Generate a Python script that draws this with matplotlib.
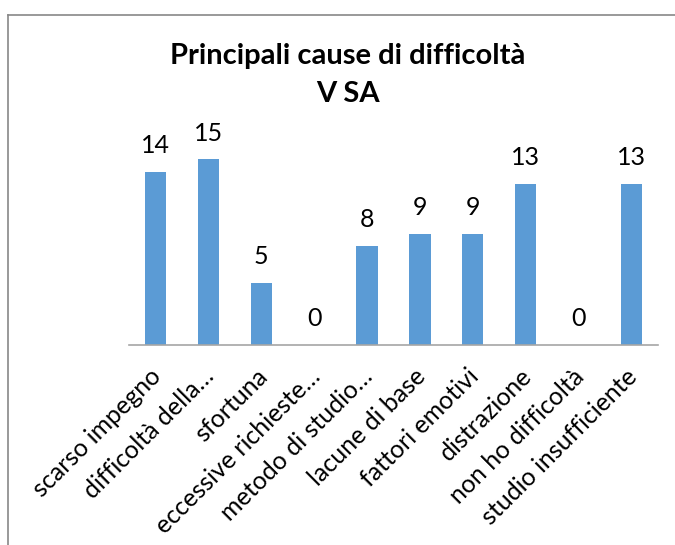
import matplotlib
matplotlib.use("Agg")
import matplotlib.pyplot as plt
from matplotlib.lines import Line2D
from matplotlib.transforms import ScaledTranslation

# dati del grafico
cause = ["scarso impegno", "difficoltà della…", "sfortuna", "eccessive richieste…",
         "metodo di studio…", "lacune di base", "fattori emotivi", "distrazione",
         "non ho difficoltà", "studio insufficiente"]
valori = [14, 15, 5, 0, 8, 9, 9, 13, 0, 13]
titolo = "Principali cause di difficoltà\nV SA"

plt.rcParams['font.family'] = ['Lato', 'DejaVu Sans']

fig = plt.figure(figsize=(6.75, 5.45), dpi=100)
ax = fig.add_axes([129/675, 1-345/545, (658-129)/675, (345-147)/545])

x = range(len(cause))
barre = ax.bar(x, valori, width=0.4, color="#5B9BD5")
for xi, v in zip(x, valori):
    ax.text(xi, v + 1.2, str(v), ha="center", va="bottom", fontsize=18, color="black")

ax.set_xlim(-0.5, len(cause) - 0.5)
ax.set_ylim(0, 16)
ax.set_yticks([])
ax.set_xticks(list(x))
ax.set_xticklabels(cause, rotation=45, ha="right", rotation_mode="anchor", fontsize=18)
ax.tick_params(axis="x", length=0, pad=14)
sposta = ScaledTranslation(-6/100, 0, fig.dpi_scale_trans)
for lab in ax.get_xticklabels():
    lab.set_transform(lab.get_transform() + sposta)
for s in ["top", "right", "left"]:
    ax.spines[s].set_visible(False)
ax.spines["bottom"].set_color("#A6A6A6")
ax.spines["bottom"].set_linewidth(1.2)

fig.text(348/675, 1-75/545, titolo, ha="center", va="center", fontsize=21,
         fontweight="bold", linespacing=1.55)

# bordo del grafico (in alto e a sinistra)
fig.add_artist(Line2D([7.5/675, 1], [1-15/545, 1-15/545], color="#888888", lw=1.2))
fig.add_artist(Line2D([7.5/675, 7.5/675], [0, 1-15/545], color="#888888", lw=1.2))

fig.savefig("out.png", dpi=100)
